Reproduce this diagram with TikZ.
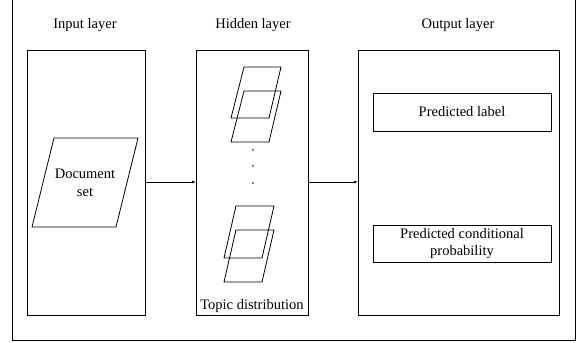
\documentclass[tikz,border=0pt]{standalone}
\usepackage{fontspec}
\setmainfont{Liberation Serif}
\usetikzlibrary{arrows.meta}
\begin{document}
\begin{tikzpicture}[x=1pt,y=-1pt,line width=0.8pt,
  every node/.style={font=\fontsize{14.5}{17.5}\selectfont, inner sep=0pt},
  layerbox/.style={draw, rectangle},
  outbox/.style={draw, rectangle, align=center},
  title/.style={anchor=base},
  conn/.style={line width=0.6pt, -{Latex[length=3.5pt,width=3pt]}},
  topicpar/.style={line width=0.8pt}]
\useasboundingbox (0,0) rectangle (579,343);
% outer frame (open at top)
\draw (12.5,0) -- (12.5,340) -- (575,340) -- (575,0);
% titles
\node[title] (tin) at (85,28) {Input layer};
\node[title] (thid) at (253,28) {Hidden layer};
\node[title] (tout) at (458,28) {Output layer};
% layer boxes
\node[layerbox, minimum width=118pt, minimum height=265pt] (inbox) at (86,182.5) {};
\node[layerbox, minimum width=112pt, minimum height=265pt] (hidbox) at (252,182.5) {};
\node[layerbox, minimum width=201pt, minimum height=265pt] (outbox) at (458.5,182.5) {};
% output inner boxes
\node[outbox, minimum width=178pt, minimum height=38pt] (plabel) at (462,112) {Predicted label};
\node[outbox, minimum width=178pt, minimum height=37pt] (pcond) at (462,243.5) {Predicted conditional\\probability};
% document set parallelogram
\draw (54,138) -- (138,138) -- (116,227) -- (32,227) -- cycle;
\node[align=center] (doc) at (85,183) {Document\\set};
% topic parallelograms
\foreach \dy in {0,24}{
  \draw[topicpar] (244,67+\dy) -- (281,67+\dy) -- (269,118+\dy) -- (231,118+\dy) -- cycle;
}
\foreach \dy in {0,24}{
  \draw[topicpar] (236,206+\dy) -- (274,206+\dy) -- (262,258+\dy) -- (224,258+\dy) -- cycle;
}
\foreach \yy in {150,166,183}{
  \fill (253,\yy) circle (0.8pt);
}
\node[anchor=base] (topic) at (252,309) {Topic distribution};
% connectors
\coordinate (a1) at (inbox.east |- 0,182);
\coordinate (a2) at (hidbox.west |- 0,182);
\coordinate (b1) at (hidbox.east |- 0,182);
\coordinate (b2) at (outbox.west |- 0,182);
\draw[conn] (a1) -- (a2);
\draw[conn] (b1) -- (b2);
\end{tikzpicture}
\end{document}
